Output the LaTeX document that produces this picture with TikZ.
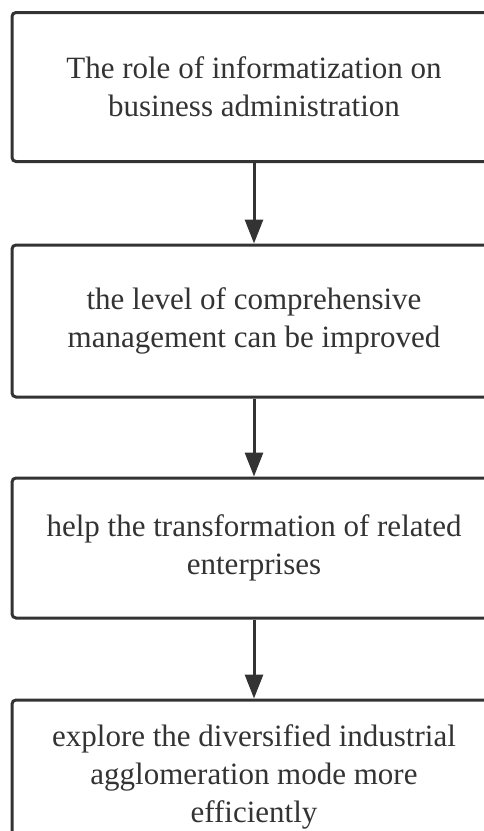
\documentclass[tikz,border=0pt]{standalone}
\usepackage{fontspec}
\setmainfont{Liberation Serif}
\usepackage{tikz}
\usetikzlibrary{shapes,arrows.meta}
\definecolor{boxgray}{HTML}{333333}

\begin{document}
\begin{tikzpicture}[x=1pt,y=-1pt,
  stage/.style={draw=boxgray,line width=3pt,rounded corners=4pt,
    minimum width=484pt,align=center,text=boxgray,
    font=\fontsize{31}{38}\selectfont},
  flow/.style={draw=boxgray,line width=3pt,
    -{Triangle[width=18pt,length=24pt]}}]
\useasboundingbox (0,0) rectangle (484,831);
\clip (0,0) rectangle (484,831);

\node[stage,minimum height=149pt] (role) at (254,87)
  {The role of informatization on\\business administration};
\node[stage,minimum height=152pt] (level) at (254,321)
  {the level of comprehensive\\management can be improved};
\node[stage,minimum height=140pt] (help) at (254,548)
  {help the transformation of related\\enterprises};
\node[stage,minimum height=154pt] (explore) at (254,777)
  {explore the diversified industrial\\agglomeration mode more\\efficiently};

\draw[flow] (role) -- (level);
\draw[flow] (level) -- (help);
\draw[flow] (help) -- (explore);

\end{tikzpicture}
\end{document}
